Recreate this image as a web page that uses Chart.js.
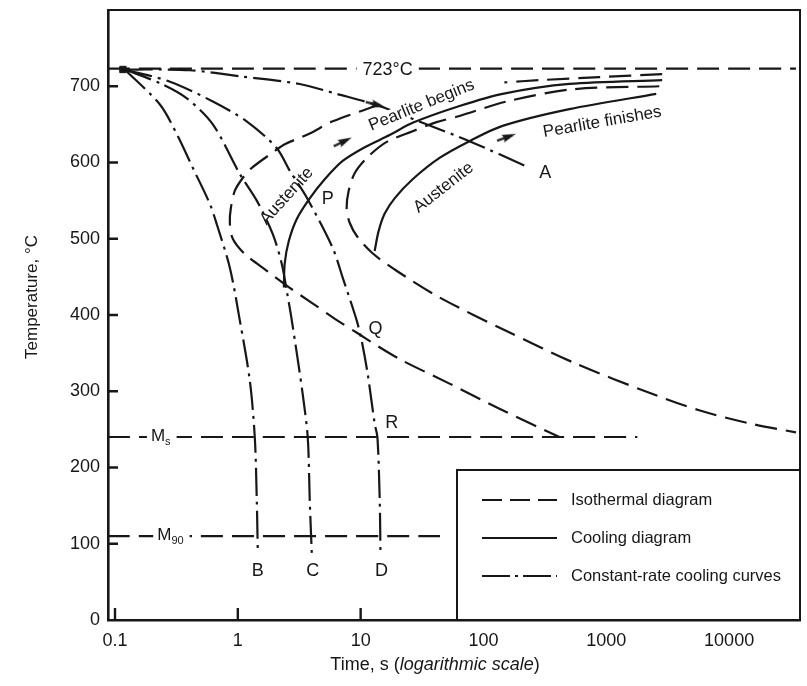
<!DOCTYPE html>
<html lang="en">
<head>
<meta charset="UTF-8">
<title>Isothermal and continuous-cooling transformation diagram</title>
<script src="https://cdn.jsdelivr.net/npm/chart.js@4.4.1/dist/chart.umd.min.js"></script>
<style>
  html, body { margin: 0; padding: 0; background: #fff; }
  #wrap { width: 807px; height: 686px; }
</style>
</head>
<body>
<div id="wrap"><canvas id="chart" width="807" height="686"></canvas></div>
<script>
// time in s (log axis), temperature in deg C
const timeTicks = [0.1, 1, 10, 100, 1000, 10000];
const tempTicks = [0, 100, 200, 300, 400, 500, 600, 700];

// horizontal reference lines
const eutectoidLine = [[0.0877, 723], [35000, 723]];
const msLine = [[0.0877, 240], [1790, 240]];
const m90Line = [[0.0877, 110], [44.7, 110]];

// isothermal diagram: pearlite begins (two pieces) and pearlite finishes
const isoBeginTop = [[2850, 716], [877, 712], [285, 708], [148, 705]];
const isoBeginMain = [[14.3, 676], [5.92, 654], [3.85, 638], [2.41, 624], [2.0, 615], [1.30, 593],
  [1.10, 580], [0.946, 563], [0.877, 540], [0.861, 521], [0.910, 500], [1.14, 480], [1.72, 458],
  [2.63, 436], [4.0, 416], [6.17, 395], [9.46, 376], [14.5, 357], [22.0, 340], [52.9, 310],
  [135, 277], [415, 240]];
const isoEnd = [[2700, 700], [530, 696], [154, 680], [63.8, 661], [41.5, 653], [26.5, 641],
  [16.3, 627], [11.4, 607], [8.94, 586], [7.99, 563], [7.69, 540], [8.14, 521], [9.46, 502],
  [12.5, 481], [19.6, 458], [43.9, 423], [154, 379], [570, 336], [2240, 298], [5700, 275],
  [14550, 258], [35000, 246]];

// cooling diagram
const coolBegin = [[2850, 708], [500, 703], [143, 690], [63.8, 674], [26.5, 652], [17.2, 636],
  [10.8, 620], [7.14, 602], [5.10, 578], [3.85, 553], [3.02, 526], [2.60, 497], [2.41, 468],
  [2.37, 436]];
const coolEnd = [[2550, 690], [500, 670], [143, 648], [76.9, 628], [43.9, 606], [26.5, 578],
  [18.9, 553], [15.7, 533], [14.0, 510], [13.0, 484]];

// constant-rate cooling curves
const curveA = [[0.120, 722], [0.407, 721], [1.038, 713], [3.19, 703], [6.38, 690], [13.7, 675],
  [31.9, 652], [76.9, 628], [237, 593]];
const curveB = [[0.120, 722], [0.232, 676], [0.319, 637], [0.430, 593], [0.591, 546], [0.674, 519],
  [0.861, 462], [1.038, 393], [1.252, 314], [1.375, 239], [1.427, 157], [1.454, 88]];
const curveC = [[0.120, 722], [0.232, 704], [0.385, 684], [0.626, 650], [1.038, 585], [1.427, 550],
  [1.926, 506], [2.28, 467], [2.50, 432], [2.75, 393], [3.37, 297], [3.71, 239], [3.85, 157],
  [4.0, 88]];
const curveD = [[0.120, 722], [0.280, 706], [0.626, 680], [1.18, 654], [2.07, 619], [2.65, 589],
  [3.64, 554], [5.92, 488], [7.14, 449], [9.28, 393], [10.2, 366], [11.4, 323], [13.0, 258],
  [13.7, 239], [14.3, 157], [14.5, 88]];

// small arrowheads along the curves, and the common starting point
const arrowMarks = [[7.14, 627], [154, 633], [13.2, 676]];
const startMark = [[0.116, 722]];

const ink = '#171717';
const isoDash = [22, 9];
const rateDash = [28, 6, 3, 6];

function curve(points, dash) {
  return {
    data: points.map(([t, T]) => ({ x: t, y: T })),
    showLine: true,
    borderColor: ink,
    borderWidth: 2.2,
    borderDash: dash || [],
    borderCapStyle: 'butt',
    pointRadius: 0,
    tension: 0.3,
    fill: false
  };
}

// arrowhead sprite pointing to +x
function arrowSprite() {
  const c = document.createElement('canvas');
  c.width = 20; c.height = 9;
  const g = c.getContext('2d');
  g.fillStyle = ink;
  g.fillRect(0, 3.4, 10, 2.2);
  g.beginPath();
  g.moveTo(20, 4.5);
  g.lineTo(6, 0.5);
  g.lineTo(8, 4.5);
  g.lineTo(6, 8.5);
  g.closePath();
  g.fill();
  return c;
}

// bg: white box behind the text so the curves under it are cut
const curveLabels = [
  { text: 'P', t: 5.39, T: 552 },
  { text: 'Q', t: 13.2, T: 382 },
  { text: 'R', t: 17.9, T: 258 },
  { text: 'A', t: 319, T: 586 },
  { text: 'B', t: 1.45, T: 64 },
  { text: 'C', t: 4.07, T: 64 },
  { text: 'D', t: 14.8, T: 64 },
  { text: 'Pearlite begins', t: 31.3, T: 675, rot: -22, bg: true },
  { text: 'Pearlite finishes', t: 927, T: 653, rot: -10 },
  { text: 'Austenite', t: 2.50, T: 556, rot: -48 },
  { text: 'Austenite', t: 47.3, T: 567, rot: -38 }
];

const font = '"Liberation Sans", Arial, Helvetica, sans-serif';

const decorations = {
  id: 'decorations',
  afterDatasetsDraw(chart) {
    const { ctx, chartArea: a, scales: { x, y } } = chart;
    const px = t => x.getPixelForValue(t);
    const py = T => y.getPixelForValue(T);
    ctx.save();
    ctx.fillStyle = ink;
    ctx.strokeStyle = ink;

    // top and right edges of the frame
    ctx.lineWidth = 2;
    ctx.beginPath();
    ctx.moveTo(a.left, a.top);
    ctx.lineTo(a.right, a.top);
    ctx.lineTo(a.right, a.bottom);
    ctx.stroke();

    // inward tick marks
    ctx.lineWidth = 2.4;
    ctx.beginPath();
    tempTicks.filter(v => v > 0).forEach(v => {
      ctx.moveTo(a.left, py(v)); ctx.lineTo(a.left + 10, py(v));
    });
    timeTicks.forEach(v => {
      ctx.moveTo(px(v), a.bottom); ctx.lineTo(px(v), a.bottom - 12);
    });
    ctx.stroke();

    // 723 °C label sitting in a gap of its line
    ctx.font = '18px ' + font;
    ctx.textAlign = 'center';
    ctx.textBaseline = 'middle';
    const ex = px(16.6), ey = py(723);
    const ew = ctx.measureText('723°C').width;
    ctx.fillStyle = '#fff';
    ctx.fillRect(ex - ew / 2 - 6, ey - 6, ew + 12, 12);
    ctx.fillStyle = ink;
    ctx.fillText('723°C', ex, ey + 1);

    // Ms and M90 labels
    function mLabel(t, T, sub) {
      const cx = px(t), cy = py(T);
      ctx.font = '17px ' + font;
      const mw = ctx.measureText('M').width;
      ctx.font = '11px ' + font;
      const sw = ctx.measureText(sub).width;
      ctx.fillStyle = '#fff';
      ctx.fillRect(cx - mw / 2 - 4, cy - 5, mw + sw + 10, 10);
      ctx.fillStyle = ink;
      ctx.textAlign = 'left';
      ctx.font = '17px ' + font;
      ctx.fillText('M', cx - mw / 2, cy - 1);
      ctx.font = '11px ' + font;
      ctx.fillText(sub, cx + mw / 2, cy + 5);
    }
    mLabel(0.224, 240, 's');
    mLabel(0.252, 110, '90');

    // letters and curve names
    ctx.textAlign = 'center';
    ctx.textBaseline = 'middle';
    curveLabels.forEach(l => {
      ctx.save();
      ctx.translate(px(l.t), py(l.T));
      if (l.rot) ctx.rotate(l.rot * Math.PI / 180);
      ctx.font = (l.rot ? '17px ' : '18px ') + font;
      if (l.bg) {
        const w = ctx.measureText(l.text).width;
        ctx.fillStyle = '#fff';
        ctx.fillRect(-w / 2 - 2, -8, w + 4, 15);
        ctx.fillStyle = ink;
      }
      ctx.fillText(l.text, 0, 0);
      ctx.restore();
    });

    // legend box
    const bx = a.right - 343, by = a.bottom - 150;
    ctx.fillStyle = '#fff';
    ctx.fillRect(bx, by, a.right - bx, a.bottom - by);
    ctx.lineWidth = 2;
    ctx.strokeRect(bx, by, a.right - bx, a.bottom - by);
    const rows = [
      { label: 'Isothermal diagram', dash: [20, 8] },
      { label: 'Cooling diagram', dash: [] },
      { label: 'Constant-rate cooling curves', dash: [28, 5, 3, 5] }
    ];
    ctx.textAlign = 'left';
    ctx.font = '16.5px ' + font;
    rows.forEach((r, i) => {
      const ry = by + 30 + i * 38;
      ctx.setLineDash(r.dash);
      ctx.lineWidth = 2.2;
      ctx.beginPath();
      ctx.moveTo(bx + 25, ry);
      ctx.lineTo(bx + 100, ry);
      ctx.stroke();
      ctx.setLineDash([]);
      ctx.fillStyle = ink;
      ctx.fillText(r.label, bx + 114, ry);
    });

    // axis titles
    ctx.font = '17px ' + font;
    ctx.textAlign = 'center';
    ctx.save();
    ctx.translate(32, (a.top + a.bottom) / 2 - 18);
    ctx.rotate(-Math.PI / 2);
    ctx.fillText('Temperature, °C', 0, 0);
    ctx.restore();

    const parts = [
      { s: 'Time, s (', f: '18px ' + font },
      { s: 'logarithmic scale', f: 'italic 18px ' + font },
      { s: ')', f: '18px ' + font }
    ];
    let total = 0;
    parts.forEach(p => { ctx.font = p.f; p.w = ctx.measureText(p.s).width; total += p.w; });
    let tx = (a.left + a.right) / 2 - 19 - total / 2;
    ctx.textAlign = 'left';
    parts.forEach(p => { ctx.font = p.f; ctx.fillText(p.s, tx, 665); tx += p.w; });

    ctx.restore();
  }
};

const datasets = [
  curve(eutectoidLine, isoDash),
  curve(msLine, isoDash),
  curve(m90Line, isoDash),
  curve(isoBeginTop, isoDash),
  curve(isoBeginMain, isoDash),
  curve(isoEnd, isoDash),
  curve(coolBegin),
  curve(coolEnd),
  curve(curveA, rateDash),
  curve(curveB, rateDash),
  curve(curveC, rateDash),
  curve(curveD, rateDash),
  {
    data: arrowMarks.map(([t, T]) => ({ x: t, y: T })),
    showLine: false,
    pointStyle: arrowSprite(),
    pointRadius: 6,
    pointRotation: [-26, -20, 15]
  },
  {
    data: startMark.map(([t, T]) => ({ x: t, y: T })),
    showLine: false,
    pointStyle: 'rect',
    pointRadius: 4.5,
    pointBackgroundColor: ink,
    pointBorderColor: ink
  }
];

new Chart(document.getElementById('chart'), {
  type: 'scatter',
  data: { datasets },
  options: {
    responsive: false,
    animation: false,
    devicePixelRatio: 1,
    layout: { padding: { top: 10, right: 6, bottom: 0, left: 0 } },
    plugins: { legend: { display: false }, tooltip: { enabled: false } },
    scales: {
      x: {
        type: 'logarithmic',
        min: 0.0877,
        max: 37760,
        grid: { display: false, drawTicks: false },
        border: { display: true, color: ink, width: 2.6 },
        ticks: {
          autoSkip: false,
          maxRotation: 0,
          padding: 10,
          color: ink,
          font: { family: font, size: 18 },
          callback: v => String(v)
        },
        afterBuildTicks: s => { s.ticks = timeTicks.map(v => ({ value: v })); },
        afterFit: s => { s.height = 66; s.paddingLeft = 0; s.paddingRight = 0; }
      },
      y: {
        min: 0,
        max: 800,
        grid: { display: false, drawTicks: false },
        border: { display: true, color: ink, width: 2.6 },
        ticks: {
          padding: 8,
          color: ink,
          font: { family: font, size: 18 }
        },
        afterBuildTicks: s => { s.ticks = tempTicks.map(v => ({ value: v })); },
        afterFit: s => { s.width = 108; s.paddingTop = 0; s.paddingBottom = 0; }
      }
    }
  },
  plugins: [decorations]
});
</script>
</body>
</html>
